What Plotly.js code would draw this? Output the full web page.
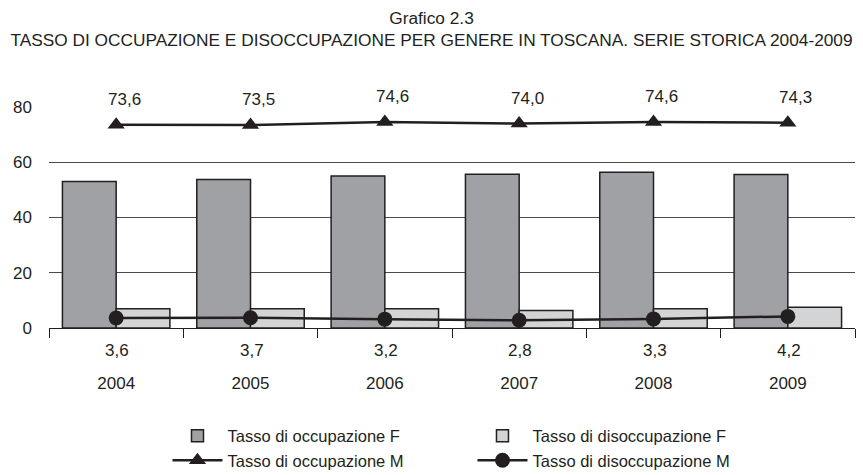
<!DOCTYPE html>
<html>
<head>
<meta charset="utf-8">
<script src="https://cdn.plot.ly/plotly-3.0.1.min.js"></script>
<style>html,body{margin:0;padding:0;background:#fff}#chart{width:863px;height:475px}</style>
</head>
<body>
<div id="chart"></div>
<script>
var years = ['2004', '2005', '2006', '2007', '2008', '2009'];
var occupazioneF = [53.0, 53.8, 55.0, 55.7, 56.4, 55.6];
var disoccupazioneF = [7.0, 7.0, 7.0, 6.3, 7.0, 7.5];
var occupazioneM = [73.6, 73.5, 74.6, 74.0, 74.6, 74.3];
var disoccupazioneM = [3.6, 3.7, 3.2, 2.8, 3.3, 4.2];
var yTicks = [0, 20, 40, 60, 80];

var FONT = 'Liberation Sans, Arial, sans-serif';
var INK = '#231f20';
function fmt(v) { return v.toFixed(1).replace('.', ','); }

var data = [
  { type: 'bar', name: 'Tasso di occupazione F', x: years, y: occupazioneF,
    marker: { color: '#a0a1a4', line: { color: INK, width: 1.5 } } },
  { type: 'bar', name: 'Tasso di disoccupazione F', x: years, y: disoccupazioneF,
    marker: { color: '#d3d4d6', line: { color: INK, width: 1.5 } } },
  { type: 'scatter', mode: 'lines+markers', name: 'Tasso di occupazione M', x: years, y: occupazioneM,
    line: { color: INK, width: 2.5 }, marker: { symbol: 'triangle-up', size: 15, color: INK }, cliponaxis: false },
  { type: 'scatter', mode: 'lines+markers', name: 'Tasso di disoccupazione M', x: years, y: disoccupazioneM,
    line: { color: INK, width: 2.5 }, marker: { symbol: 'circle', size: 15, color: INK }, cliponaxis: false }
];

var annotations = [];
years.forEach(function (yr, i) {
  annotations.push({ x: i, y: occupazioneM[i], xref: 'x', yref: 'y', text: fmt(occupazioneM[i]),
    showarrow: false, yshift: 25, xshift: 8, font: { family: FONT, size: 17, color: INK } });
  annotations.push({ x: i, y: 0, xref: 'x', yref: 'paper', yanchor: 'middle', text: fmt(disoccupazioneM[i]),
    showarrow: false, yshift: -22, xshift: 1, font: { family: FONT, size: 17, color: INK } });
});

var layout = {
  width: 863, height: 475,
  margin: { l: 49, r: 8, t: 107, b: 147, autoexpand: false },
  paper_bgcolor: '#fff', plot_bgcolor: '#fff',
  font: { family: FONT, size: 17, color: INK },
  title: { text: 'Grafico 2.3<br>TASSO DI OCCUPAZIONE E DISOCCUPAZIONE PER GENERE IN TOSCANA. SERIE STORICA 2004-2009',
    font: { family: FONT, size: 17.3, color: INK }, x: 0.5, xanchor: 'center', xref: 'container', y: 0.95, yanchor: 'middle' },
  barmode: 'group', bargap: 0.2, bargroupgap: 0,
  showlegend: true,
  legend: { orientation: 'h', x: 0.147, xanchor: 'left', y: -0.41, yanchor: 'top',
    entrywidth: 240, entrywidthmode: 'pixels', itemwidth: 50, traceorder: 'normal',
    font: { family: FONT, size: 16.5, color: INK }, bgcolor: 'rgba(0,0,0,0)' },
  xaxis: { type: 'category', range: [-0.5, 5.5], autorange: false, tickson: 'boundaries', ticks: 'outside',
    ticklen: 9, tickwidth: 1, tickcolor: INK,
    showline: true, linecolor: INK, linewidth: 1, showgrid: false, zeroline: false,
    ticklabelstandoff: 40, tickfont: { family: FONT, size: 17, color: INK } },
  yaxis: { range: [0, 80], autorange: false, tickvals: yTicks, ticks: '', showline: false, showgrid: true,
    gridcolor: '#4a4a4a', gridwidth: 1, zeroline: false, ticklabelstandoff: 16,
    tickfont: { family: FONT, size: 17, color: INK } },
  annotations: annotations,
  hovermode: false
};

Plotly.newPlot('chart', data, layout, { displayModeBar: false, staticPlot: true });
</script>
</body>
</html>
